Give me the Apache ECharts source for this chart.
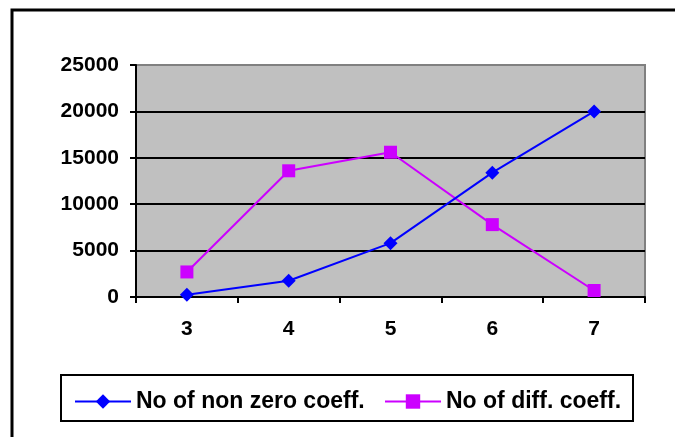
<!DOCTYPE html>
<html>
<head>
<meta charset="utf-8">
<script src="https://cdn.jsdelivr.net/npm/echarts@6/dist/echarts.min.js"></script>
<style>html,body{margin:0;padding:0;background:#fff;}#c{width:675px;height:437px;}</style>
</head>
<body>
<div id="c"></div>
<script>
var categories = ['3', '4', '5', '6', '7'];
var nonZeroCoeff = [250, 1750, 5800, 13400, 20000];
var diffCoeff = [2700, 13600, 15600, 7800, 700];
var yTicks = { min: 0, max: 25000, interval: 5000 };
var seriesNames = ['No of non zero coeff.', 'No of diff. coeff.'];

var chart = echarts.init(document.getElementById('c'), null, { renderer: 'canvas' });
var font = 'Arial, "Liberation Sans", sans-serif';
var legendText = { fontFamily: font, fontWeight: 'bold', fontSize: 23, color: '#000' };
chart.setOption({
  animation: false,
  backgroundColor: '#ffffff',
  graphic: [
    { type: 'rect', shape: { x: 12, y: 10, width: 700, height: 460 }, style: { fill: 'none', stroke: '#000', lineWidth: 3 }, z: 100 },
    { type: 'rect', shape: { x: 61, y: 375, width: 572, height: 46 }, style: { fill: '#fff', stroke: '#000', lineWidth: 2 }, z: 0 }
  ],
  grid: { left: 136, right: 30, top: 65, bottom: 140, show: true, backgroundColor: '#C0C0C0', borderColor: '#808080', borderWidth: 2 },
  legend: [
    { left: 69, top: 385, itemWidth: 56, itemHeight: 18, itemStyle: {}, z: 10, textStyle: legendText, data: [seriesNames[0]] },
    { left: 379, top: 385, itemWidth: 56, itemHeight: 18, z: 10, textStyle: legendText, data: [seriesNames[1]] }
  ],
  xAxis: {
    type: 'category', data: categories, boundaryGap: true,
    axisLine: { lineStyle: { color: '#000', width: 2 } },
    axisTick: { show: true, length: 6, lineStyle: { color: '#000', width: 2 } },
    axisLabel: { margin: 22, fontFamily: font, fontWeight: 'bold', fontSize: 21, color: '#000' }
  },
  yAxis: {
    type: 'value', min: yTicks.min, max: yTicks.max, interval: yTicks.interval,
    axisLine: { show: true, lineStyle: { color: '#000', width: 2 } },
    axisTick: { show: true, length: 6, lineStyle: { color: '#000', width: 2 } },
    axisLabel: { margin: 17, fontFamily: font, fontWeight: 'bold', fontSize: 21, color: '#000', formatter: function (v) { return String(v); } },
    splitLine: { show: true, lineStyle: { color: ['#000', '#000', '#000', '#000', '#000', '#808080'], width: 2 } }
  },
  series: [
    { name: seriesNames[0], type: 'line', data: nonZeroCoeff, symbol: 'diamond', symbolSize: 14,
      itemStyle: { color: '#0000FF' }, lineStyle: { color: '#0000FF', width: 2 }, z: 3 },
    { name: seriesNames[1], type: 'line', data: diffCoeff, symbol: 'rect', symbolSize: 13,
      itemStyle: { color: '#CC00FF' }, lineStyle: { color: '#CC00FF', width: 2 }, z: 2 }
  ]
});
</script>
</body>
</html>
